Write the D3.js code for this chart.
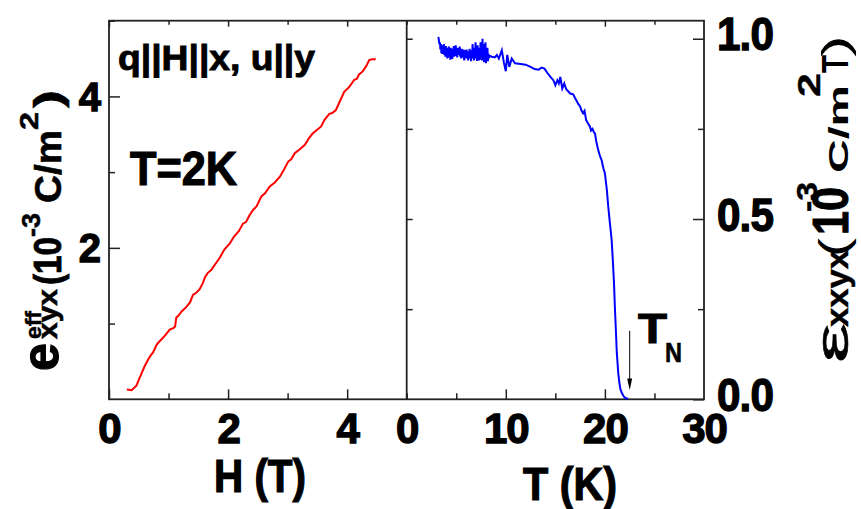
<!DOCTYPE html>
<html>
<head>
<meta charset="utf-8">
<script src="https://cdn.jsdelivr.net/npm/d3@7"></script>
<style>
  body { margin: 0; background: #fff; }
  text { font-family: "Liberation Sans", Arial, sans-serif; fill: #000; }
</style>
</head>
<body>
<script>

// left panel: effective piezo coefficient vs field at T = 2 K
var fieldH = [0.30, 0.38, 0.46, 0.55, 0.60, 0.66, 0.70, 0.74, 0.80, 0.83, 0.88, 0.95, 1.02, 1.08, 1.11, 1.13, 1.16, 1.22, 1.30, 1.36, 1.41, 1.47, 1.52, 1.58, 1.61, 1.66, 1.72, 1.78, 1.86, 1.94,
    2.03, 2.10, 2.18, 2.25, 2.30, 2.36, 2.42, 2.48, 2.56, 2.62, 2.70, 2.78, 2.87, 2.93, 3.01, 3.06, 3.12, 3.20, 3.29, 3.36, 3.42, 3.48, 3.56, 3.62, 3.70, 3.75, 3.81, 3.88, 3.95, 4.03, 4.12, 4.16, 4.20, 4.26, 4.32, 4.37, 4.42, 4.48];
var effE = [0.13, 0.12, 0.18, 0.35, 0.44, 0.53, 0.58, 0.62, 0.72, 0.75, 0.79, 0.85, 0.92, 0.94, 0.96, 1.08, 1.10, 1.16, 1.22, 1.28, 1.38, 1.41, 1.45, 1.54, 1.61, 1.67, 1.71, 1.78, 1.87, 1.98,
    2.06, 2.15, 2.22, 2.32, 2.34, 2.43, 2.50, 2.55, 2.68, 2.72, 2.81, 2.86, 2.94, 3.02, 3.14, 3.17, 3.25, 3.30, 3.36, 3.45, 3.51, 3.55, 3.60, 3.69, 3.77, 3.78, 3.82, 3.94, 4.06, 4.12, 4.22, 4.23, 4.29, 4.33, 4.40, 4.48, 4.49, 4.49];

// right panel: coefficient vs temperature (noisy below ~10 K)
var tempK = [3.20, 3.25, 3.30, 3.35, 3.40, 3.45, 3.50, 3.55, 3.60, 3.65, 3.70, 3.75, 3.80, 3.85, 3.90, 3.95, 4.00, 4.05, 4.10, 4.15, 4.20, 4.25, 4.30, 4.35, 4.40, 4.45, 4.50, 4.55, 4.60, 4.65,
    4.70, 4.75, 4.80, 4.85, 4.90, 4.95, 5.00, 5.05, 5.10, 5.15, 5.20, 5.25, 5.30, 5.35, 5.40, 5.45, 5.50, 5.55, 5.60, 5.65, 5.70, 5.75, 5.80, 5.85, 5.90, 5.95,
    6.00, 6.05, 6.10, 6.15, 6.20, 6.25, 6.30, 6.35, 6.40, 6.45, 6.50, 6.55, 6.60, 6.65, 6.70, 6.75, 6.80, 6.85, 6.90, 6.95,
    7.00, 7.05, 7.10, 7.15, 7.20, 7.25, 7.30, 7.35, 7.40, 7.45, 7.50, 7.55, 7.60, 7.65, 7.70, 7.75, 7.80, 7.85, 7.90, 7.95,
    8.00, 8.05, 8.10, 8.15, 8.20, 8.25, 8.30, 8.40, 8.60, 8.90, 9.10, 9.30,
    9.6, 9.8, 10.0, 10.15, 10.35, 10.6, 10.93, 11.5, 12.0, 12.5, 12.9, 13.3, 13.6, 13.9, 14.2, 14.5, 14.8, 15.0, 15.2, 15.35, 15.5, 15.7, 15.9, 16.1, 16.5, 16.8,
    17.0, 17.3, 17.5, 17.65, 17.8, 17.95, 18.1, 18.3, 18.5, 18.6, 18.75, 18.9, 19.0, 19.15, 19.33, 19.5, 19.67, 19.85, 20.0, 20.2, 20.34, 20.5, 20.68, 20.8,
    20.92, 21.0, 21.12, 21.2, 21.35, 21.45, 21.55, 21.7, 21.9, 22.1, 22.35];
var coefV = [1.005, 0.995, 0.985, 0.990, 0.970, 0.985, 0.960, 0.982, 0.958, 0.978, 0.962, 0.985, 0.955, 0.975, 0.950, 0.980, 0.958, 0.975, 0.945, 0.972, 0.952, 0.978, 0.948, 0.970, 0.942, 0.975, 0.950, 0.968, 0.944, 0.972,
    0.955, 0.980, 0.950, 0.975, 0.958, 0.982, 0.952, 0.970, 0.948, 0.975, 0.955, 0.972, 0.958, 0.978, 0.950, 0.968, 0.945, 0.972, 0.952, 0.965, 0.948, 0.970, 0.940, 0.962, 0.950, 0.968,
    0.945, 0.970, 0.952, 0.962, 0.940, 0.965, 0.950, 0.972, 0.945, 0.960, 0.938, 0.968, 0.950, 0.985, 0.945, 0.970, 0.940, 0.975, 0.952, 0.990,
    0.945, 0.978, 0.938, 0.982, 0.950, 0.968, 0.940, 0.975, 0.948, 0.990, 0.942, 0.985, 0.940, 1.000, 0.945, 0.985, 0.935, 0.978, 0.940, 0.990,
    0.932, 0.970, 0.945, 0.975, 0.938, 0.958, 0.948, 0.952, 0.950, 0.948, 0.955, 0.945,
    0.968, 0.935, 0.910, 0.955, 0.922, 0.945, 0.932, 0.930, 0.928, 0.922, 0.916, 0.914, 0.920, 0.917, 0.905, 0.894, 0.885, 0.871, 0.885, 0.876, 0.894, 0.862, 0.876, 0.860, 0.848, 0.846,
    0.835, 0.820, 0.812, 0.800, 0.793, 0.800, 0.775, 0.765, 0.756, 0.745, 0.750, 0.740, 0.737, 0.712, 0.691, 0.675, 0.663, 0.640, 0.627, 0.580, 0.534, 0.490, 0.442, 0.385,
    0.322, 0.260, 0.183, 0.130, 0.072, 0.048, 0.030, 0.018, 0.008, 0.003, 0.002];

var hMajor = [0, 2, 4], hMinor = [1, 3, 5];
var eMajor = [2, 4], eMinor = [1, 3, 5];
var tMajor = [0, 10, 20, 30], tMinor = [5, 15, 25];
var vMajor = [0, 0.5, 1.0], vMinor = [0.25, 0.75];
var tNeel = 22.5;

var width = 861, height = 509;
var xLeft = 109, xMid = 406.7, xRight = 704, yTop = 20.7, yBottom = 399.3;

var svg = d3.select("body").append("svg")
    .attr("width", width)
    .attr("height", height);

var xH = d3.scaleLinear().domain([0, 5]).range([xLeft, xMid]);
var yE = d3.scaleLinear().domain([0, 5]).range([yBottom, yTop]);
var xT = d3.scaleLinear().domain([0, 30]).range([xMid, xRight]);
var yV = d3.scaleLinear().domain([0, 1.05]).range([yBottom, yTop]);

// draw ticks (no labels) for one axis
function ticks(axisFn, scale, values, size, tx, ty) {
    var g = svg.append("g")
        .attr("transform", "translate(" + tx + "," + ty + ")")
        .call(axisFn(scale).tickValues(values).tickSizeInner(size).tickSizeOuter(0).tickFormat(""));
    g.select(".domain").remove();
    g.selectAll("line").attr("stroke", "#222").attr("stroke-width", 1.5);
    return g;
}

// left panel ticks
ticks(d3.axisBottom, xH, hMajor, -10, 0, yBottom);
ticks(d3.axisBottom, xH, hMinor, -6, 0, yBottom);
ticks(d3.axisTop, xH, hMajor, -6, 0, yTop);
ticks(d3.axisTop, xH, hMinor, -4, 0, yTop);
ticks(d3.axisLeft, yE, eMajor, -11, xLeft, 0);
ticks(d3.axisLeft, yE, eMinor, -6, xLeft, 0);

// right panel ticks
ticks(d3.axisBottom, xT, [10, 20], -10, 0, yBottom);
ticks(d3.axisBottom, xT, tMinor, -6, 0, yBottom);
ticks(d3.axisTop, xT, [10, 20], -6, 0, yTop);
ticks(d3.axisTop, xT, tMinor, -4, 0, yTop);
ticks(d3.axisRight, yV, vMajor, -11, xRight, 0);
ticks(d3.axisRight, yV, vMinor, -6, xRight, 0);
ticks(d3.axisLeft, yV, [0.25, 0.5, 0.75, 1.0], -6, xMid, 0);

// frames
svg.append("rect")
    .attr("x", xLeft).attr("y", yTop)
    .attr("width", xRight - xLeft).attr("height", yBottom - yTop)
    .attr("fill", "none").attr("stroke", "#222").attr("stroke-width", 1.8);
svg.append("line")
    .attr("x1", xMid).attr("x2", xMid).attr("y1", yTop).attr("y2", yBottom)
    .attr("stroke", "#222").attr("stroke-width", 1.8);

// tick labels
function labels(axisFn, scale, values, fmt, tx, ty, size) {
    var g = svg.append("g")
        .attr("transform", "translate(" + tx + "," + ty + ")")
        .call(axisFn(scale).tickValues(values).tickSize(0).tickFormat(fmt));
    g.select(".domain").remove();
    g.selectAll("text")
        .style("font-size", size + "px")
        .style("font-weight", "bold")
        .attr("stroke", "#000").attr("stroke-width", 1.3)
        .attr("letter-spacing", "-1");
    return g;
}

labels(d3.axisBottom, xH, hMajor, d3.format("d"), 0, yBottom, 42)
    .selectAll("text").attr("y", 44).attr("dy", null);
labels(d3.axisBottom, xT, tMajor, d3.format("d"), 0, yBottom, 42)
    .selectAll("text").attr("y", 44).attr("dy", null);
labels(d3.axisLeft, yE, eMajor, d3.format("d"), xLeft, 0, 40)
    .selectAll("text").attr("x", -9).attr("dy", "0.34em");
labels(d3.axisRight, yV, vMajor, d3.format(".1f"), xRight, 0, 46)
    .selectAll("text").attr("x", 13).attr("dy", "0.24em")
    .attr("textLength", 56).attr("lengthAdjust", "spacingAndGlyphs");

// curves
var lineE = d3.line()
    .x(function (d, i) { return xH(fieldH[i]); })
    .y(function (d) { return yE(d); });
svg.append("path")
    .attr("d", lineE(effE))
    .attr("fill", "none").attr("stroke", "#ff0000").attr("stroke-width", 2);

var lineV = d3.line()
    .x(function (d, i) { return xT(tempK[i]); })
    .y(function (d) { return yV(d); });
svg.append("path")
    .attr("d", lineV(coefV))
    .attr("fill", "none").attr("stroke", "#0000ff").attr("stroke-width", 2);

// T_N arrow
svg.append("line")
    .attr("x1", xT(tNeel)).attr("x2", xT(tNeel))
    .attr("y1", yV(0.19)).attr("y2", yV(0.05))
    .attr("stroke", "#000").attr("stroke-width", 1);
svg.append("path")
    .attr("d", "M" + (xT(tNeel) - 2.5) + "," + yV(0.058) + "L" + xT(tNeel) + "," + yV(0.026) + "L" + (xT(tNeel) + 2.5) + "," + yV(0.058) + "Z")
    .attr("fill", "#000");

// plain text helper; rot = rotate -90
function txt(str, x, y, size, len, weight, rot, heavy) {
    var t = svg.append("text")
        .attr("transform", "translate(" + x + "," + y + ")" + (rot ? " rotate(-90)" : ""))
        .style("font-size", size + "px")
        .style("font-weight", weight || "bold")
        .text(str);
    if (len) t.attr("textLength", len).attr("lengthAdjust", "spacingAndGlyphs");
    if (heavy) t.attr("stroke", "#000").attr("stroke-width", heavy);
    return t;
}

// annotations
txt("q||H||x, u||y", 118, 70, 35, 197, "bold", false, 0.9);
txt("T=2K", 130, 185, 48, 107, "bold", false, 1.2);
txt("T", 638, 343, 43, 29, "bold", false, 1.2);
txt("N", 665, 362, 27, 17, "bold", false, 0.6);

// axis titles
txt("H (T)", 214, 492, 46, 92, "bold", false, 1.2);
txt("T (K)", 523, 500, 46, 94, "bold", false, 1.2);

// left y title
txt("e", 58, 371, 52, 28, "bold", true, 1.2);
txt("eff", 41, 339, 22, 28, "bold", true, 0.5);
txt("xyx", 57, 339, 28, 50, "bold", true, 0.6);
txt("(10", 61, 285, 38, 48, "bold", true, 0.9);
txt("-3", 40, 237, 26, 24, "bold", true, 0.5);
txt("C/m", 61, 203, 36, 73, "bold", true, 0.6);
txt("2", 38, 130, 26, 18, "bold", true, 0.5);
txt(")", 61, 108, 38, 18, "bold", true, 0.6);

// right y title
txt("\u03b5", 848, 363, 46, 40, "normal", true, 0.6);
txt("xxyx", 848, 327, 32, 77, "bold", true, 0.4);
txt("(", 848, 257, 40, 19, "normal", true);
txt("10", 848, 235, 50, 48, "bold", true, 1);
txt("-3", 817, 212, 30, 30, "bold", true, 0.5);
txt("C/m", 848, 173, 28, 88, "bold", true);
txt("2", 820, 97, 32, 24, "bold", true, 0.4);
txt("T", 848, 73, 36, 18, "bold", true);
txt(")", 848, 57, 36, 22, "normal", true);

</script>
</body>
</html>
